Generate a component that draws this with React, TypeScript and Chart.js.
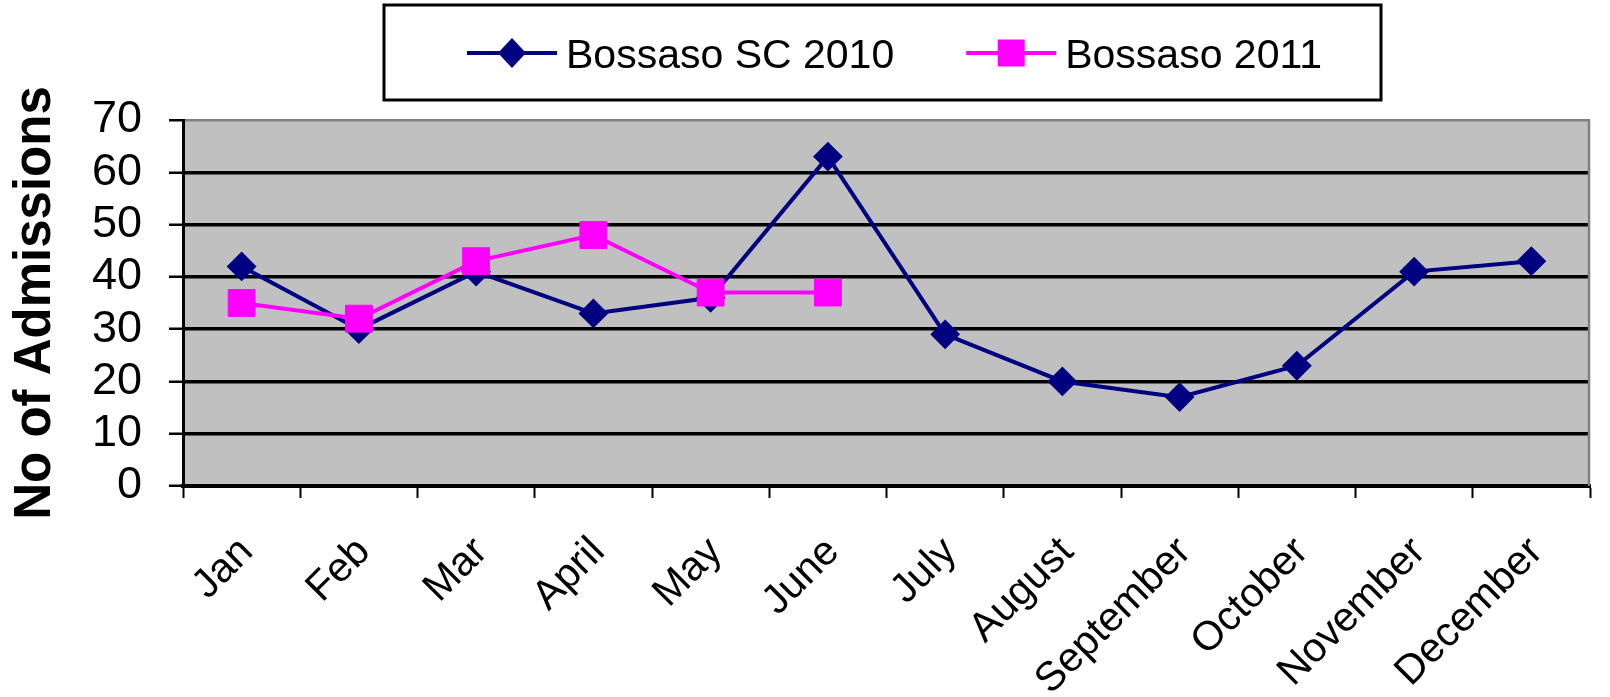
import React, { useEffect, useRef } from "react";
import { Chart, registerables } from "chart.js";

Chart.register(...registerables);

const months = ["Jan", "Feb", "Mar", "April", "May", "June", "July", "August", "September", "October", "November", "December"];
const bossaso2010 = [42, 30, 41, 33, 36, 63, 29, 20, 17, 23, 41, 43];
const bossaso2011 = [35, 32, 43, 48, 37, 37, null, null, null, null, null, null];
const seriesNames = ["Bossaso SC 2010", "Bossaso 2011"];
const yTitle = "No of Admissions";
const yMin = 0;
const yMax = 70;
const yStep = 10;

const NAVY = "#000080";
const MAGENTA = "#FF00FF";
const FAMILY = '"Liberation Sans", Arial, sans-serif';

export default function App() {
  const ref = useRef<HTMLCanvasElement | null>(null);

  useEffect(() => {
    const canvas = ref.current;
    if (!canvas) return;
    const legendSize = 41;

    const bgPlugin = {
      id: "plotBg",
      beforeDraw(chart: any) {
        const { ctx, chartArea: a } = chart;
        ctx.save();
        ctx.fillStyle = "#C0C0C0";
        ctx.fillRect(a.left, a.top, a.right - a.left, a.bottom - a.top);
        ctx.restore();
      },
      beforeDatasetsDraw(chart: any) {
        const { ctx, chartArea: a } = chart;
        ctx.save();
        ctx.strokeStyle = "#808080";
        ctx.lineWidth = 2.5;
        ctx.beginPath();
        ctx.moveTo(a.right - 1, a.top);
        ctx.lineTo(a.right - 1, a.bottom);
        ctx.stroke();
        ctx.restore();
      },
    };

    const legendPlugin = {
      id: "boxLegend",
      afterDraw(chart: any) {
        const { ctx, chartArea: a } = chart;
        ctx.save();
        ctx.font = `${legendSize}px ${FAMILY}`;
        const sampleW = 90;
        const gap = 9;
        const itemGap = 72;
        const w1 = ctx.measureText(seriesNames[0]).width;
        const w2 = ctx.measureText(seriesNames[1]).width;
        const total = sampleW + gap + w1 + itemGap + sampleW + gap + w2;
        const cx = (a.left + a.right) / 2 + 8;
        const start = cx - total / 2;
        const cy = 53;
        const bx0 = start - 83;
        const bx1 = start + total + 59;
        ctx.strokeStyle = "#000";
        ctx.lineWidth = 3;
        ctx.strokeRect(bx0, 5, bx1 - bx0, 95);
        ctx.strokeStyle = NAVY;
        ctx.lineWidth = 4;
        ctx.beginPath();
        ctx.moveTo(start, cy);
        ctx.lineTo(start + sampleW, cy);
        ctx.stroke();
        const m1 = start + sampleW / 2;
        ctx.fillStyle = NAVY;
        ctx.beginPath();
        ctx.moveTo(m1 - 14, cy);
        ctx.lineTo(m1, cy - 15);
        ctx.lineTo(m1 + 14, cy);
        ctx.lineTo(m1, cy + 15);
        ctx.closePath();
        ctx.fill();
        ctx.fillStyle = "#000";
        ctx.textBaseline = "alphabetic";
        ctx.textAlign = "left";
        const base = cy + (legendSize * 0.716) / 2;
        ctx.fillText(seriesNames[0], start + sampleW + gap, base);
        const s2 = start + sampleW + gap + w1 + itemGap;
        ctx.strokeStyle = MAGENTA;
        ctx.beginPath();
        ctx.moveTo(s2, cy);
        ctx.lineTo(s2 + sampleW, cy);
        ctx.stroke();
        const m2 = s2 + sampleW / 2;
        ctx.fillStyle = MAGENTA;
        ctx.fillRect(m2 - 13.5, cy - 13.5, 27, 27);
        ctx.fillStyle = "#000";
        ctx.fillText(seriesNames[1], s2 + sampleW + gap, base);
        ctx.restore();
      },
    };

    const chart = new Chart(canvas, {
      type: "line",
      data: {
        labels: months,
        datasets: [
          {
            label: seriesNames[0],
            data: bossaso2010,
            borderColor: NAVY,
            backgroundColor: NAVY,
            borderWidth: 4,
            pointStyle: "rectRot",
            pointRadius: 13.5,
            pointBorderWidth: 2,
            pointBorderColor: NAVY,
            pointBackgroundColor: NAVY,
            tension: 0,
            order: 2,
          },
          {
            label: seriesNames[1],
            data: bossaso2011,
            borderColor: MAGENTA,
            backgroundColor: MAGENTA,
            borderWidth: 4,
            pointStyle: "rect",
            pointRadius: 19,
            pointBorderWidth: 1,
            pointBorderColor: MAGENTA,
            pointBackgroundColor: MAGENTA,
            tension: 0,
            spanGaps: false,
            order: 1,
          },
        ],
      },
      options: {
        responsive: false,
        animation: false,
        devicePixelRatio: 1,
        layout: { padding: { top: 120, right: 4, bottom: 0, left: 0 } },
        plugins: {
          legend: { display: false },
          tooltip: { enabled: false },
          title: { display: false },
        },
        scales: {
          x: {
            type: "category",
            offset: true,
            grid: {
              offset: true,
              drawOnChartArea: false,
              drawTicks: true,
              tickLength: 12,
              tickColor: "#000",
              tickWidth: 2,
            },
            border: { display: true, color: "#000", width: 4 },
            ticks: {
              color: "#000",
              font: { family: FAMILY, size: 41 },
              maxRotation: 45,
              minRotation: 45,
              autoSkip: false,
              padding: 30,
              labelOffset: 5,
            },
            afterFit(scale: any) {
              scale.height = 697 - 486;
              scale.paddingLeft = 0;
              scale.paddingRight = 0;
            },
          },
          y: {
            min: yMin,
            max: yMax,
            ticks: {
              stepSize: yStep,
              autoSkip: false,
              color: "#000",
              font: { family: FAMILY, size: 45 },
              padding: 27,
            },
            grid: {
              color: (c: any) => (c.tick && c.tick.value === yMax ? "#808080" : "#000"),
              lineWidth: (c: any) => (c.tick && c.tick.value === yMax ? 2.5 : 3.5),
              drawTicks: true,
              tickLength: 14,
              tickColor: "#000",
              tickWidth: 2.5,
            },
            border: { display: true, color: "#000", width: 3 },
            title: {
              display: true,
              text: yTitle,
              color: "#000",
              font: { family: FAMILY, size: 51, weight: "bold" },
              padding: { top: 5, bottom: 0 },
            },
            afterFit(scale: any) {
              scale.width = 183;
              scale.paddingTop = 0;
              scale.paddingBottom = 0;
            },
          },
        },
      },
      plugins: [bgPlugin, legendPlugin],
    });

    return () => chart.destroy();
  }, []);

  return (
    <div style={{ position: "absolute", left: 0, top: 0, width: 1610, height: 697 }}>
      <canvas ref={ref} width={1610} height={697} style={{ display: "block", width: 1610, height: 697 }} />
    </div>
  );
}
